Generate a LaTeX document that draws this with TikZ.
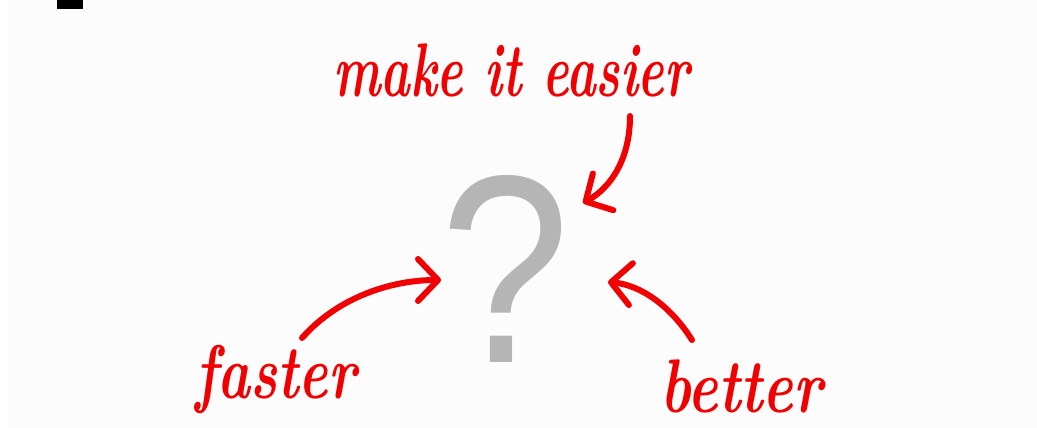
\documentclass[tikz,border=0pt]{standalone}
\usepackage{fontspec}
\newfontfamily\qfont{Liberation Sans}
\usetikzlibrary{arrows.meta}
\definecolor{bg}{HTML}{FCFCFC}
\definecolor{qgray}{HTML}{B5B5B5}
\definecolor{hand}{HTML}{F00000}
\tikzset{
  handtext/.style={text=hand, inner sep=0pt, anchor=base west, font=\fontsize{76}{76}\selectfont\bfseries\itshape},
  handarrow/.style={draw=hand, line width=6pt, line cap=round, line join=round,
    -{Straight Barb[length=20pt,width=42pt,line cap=round,line join=round]}},
}
\begin{document}
\begin{tikzpicture}[x=1pt,y=-1pt]
\useasboundingbox (0,0) rectangle (1037,428);
\fill[bg] (0,0) rectangle (1037,428);
\fill[white] (0,0) rectangle (8,428);
\fill[black] (57,0) rectangle (83,9);
\node[text=qgray, inner sep=0pt, anchor=base, font=\fontsize{268}{268}\selectfont\qfont] (q) at (505,362) {\scalebox{0.87}[1]{?}};
\node[handtext] (easier) at (333,96) {\scalebox{0.66}[1]{make it easier}};
\node[handtext] (faster) at (195,398) {\scalebox{0.73}[1]{faster}};
\node[handtext] (better) at (660,412) {\scalebox{0.76}[1]{better}};
\coordinate (s1) at (630,116);
\coordinate (t1) at (583,203);
\coordinate (s2) at (302,338);
\coordinate (t2) at (441,280);
\coordinate (s3) at (692,340);
\coordinate (t3) at (608,282);
\draw[handarrow] (s1) .. controls (630,160) and (610,188) .. (t1);
\draw[handarrow] (s2) .. controls (340,295) and (395,280) .. (t2);
\draw[handarrow] (s3) .. controls (670,305) and (640,285) .. (t3);
\end{tikzpicture}
\end{document}
